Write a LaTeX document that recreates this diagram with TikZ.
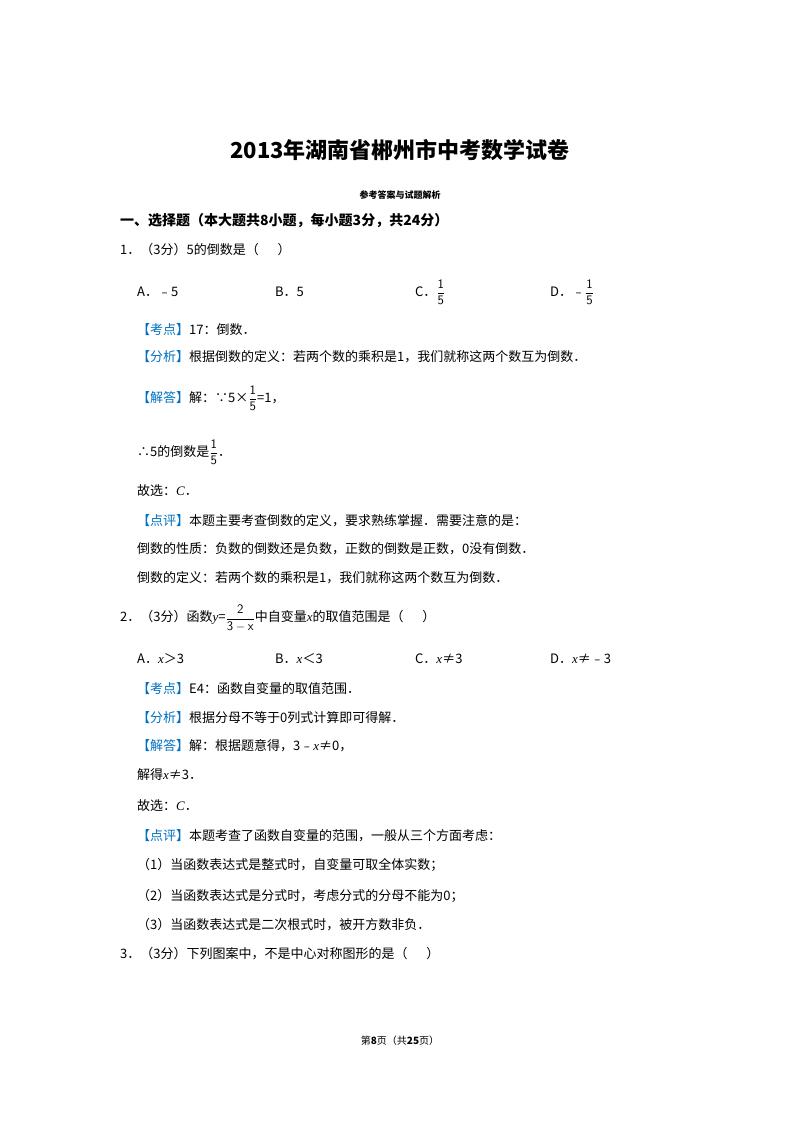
\documentclass[tikz,border=0pt]{standalone}
\usepackage{fontspec}
\setmainfont{Liberation Serif}
\newfontfamily\cjk{Noto Sans CJK SC}
\newfontfamily\lat{Liberation Serif}
\newcommand{\iv}[1]{{\lat\itshape #1}}
\newcommand{\fr}[2]{$\displaystyle\frac{\mathsf{#1}}{\mathsf{#2}}$}
\definecolor{tagblue}{RGB}{0,112,192}
\begin{document}
\begin{tikzpicture}[x=1pt,y=-1pt,
  t/.style={anchor=west,inner sep=0pt,font=\fontsize{13}{15}\selectfont\cjk}]
\useasboundingbox (0,0) rectangle (800,1132);
\node[font=\fontsize{22}{26}\selectfont\cjk\bfseries] (title) at (400,150) {2013年湖南省郴州市中考数学试卷};
\node[font=\fontsize{9}{11}\selectfont\cjk\bfseries] (sub) at (400,195) {参考答案与试题解析};
\node[t,font=\fontsize{14}{16}\selectfont\cjk\bfseries] (sec) at (120,221) {一、选择题（本大题共8小题，每小题3分，共24分）};
\node[t] (q1) at (120,250) {1．（3分）5的倒数是（\quad\ \ ）};
\node[t] (a1) at (137,292) {A．﹣5};
\node[t] (b1) at (275,292) {B．5};
\node[t] (c1) at (415,292) {C．\fr{1}{5}};
\node[t] (d1) at (550,292) {D．﹣\fr{1}{5}};
\node[t] (k1) at (137,330) {\textcolor{tagblue}{【考点】}17：倒数．};
\node[t] (f1) at (137,357) {\textcolor{tagblue}{【分析】}根据倒数的定义：若两个数的乘积是1，我们就称这两个数互为倒数．};
\node[t] (j1) at (137,398) {\textcolor{tagblue}{【解答】}解：∵5×\fr{1}{5}=1，};
\node[t] (s1) at (137,452) {∴5的倒数是\fr{1}{5}．};
\node[t] (g1) at (137,491) {故选：\iv{C}．};
\node[t] (p1) at (137,521) {\textcolor{tagblue}{【点评】}本题主要考查倒数的定义，要求熟练掌握．需要注意的是：};
\node[t] (p1b) at (137,549) {倒数的性质：负数的倒数还是负数，正数的倒数是正数，0没有倒数．};
\node[t] (p1c) at (137,578) {倒数的定义：若两个数的乘积是1，我们就称这两个数互为倒数．};
\node[t] (q2) at (120,618) {2．（3分）函数\iv{y}=\fr{2}{3-x}中自变量\iv{x}的取值范围是（\quad\ \ ）};
\node[t] (a2) at (137,659) {A．\iv{x}＞3};
\node[t] (b2) at (275,659) {B．\iv{x}＜3};
\node[t] (c2) at (415,659) {C．\iv{x}≠3};
\node[t] (d2) at (550,659) {D．\iv{x}≠﹣3};
\node[t] (k2) at (137,689) {\textcolor{tagblue}{【考点】}E4：函数自变量的取值范围．};
\node[t] (f2) at (137,718) {\textcolor{tagblue}{【分析】}根据分母不等于0列式计算即可得解．};
\node[t] (j2) at (137,746) {\textcolor{tagblue}{【解答】}解：根据题意得，3﹣\iv{x}≠0，};
\node[t] (s2) at (137,775) {解得\iv{x}≠3．};
\node[t] (g2) at (137,806) {故选：\iv{C}．};
\node[t] (p2) at (137,836) {\textcolor{tagblue}{【点评】}本题考查了函数自变量的范围，一般从三个方面考虑：};
\node[t] (p2b) at (137,865) {（1）当函数表达式是整式时，自变量可取全体实数；};
\node[t] (p2c) at (137,896) {（2）当函数表达式是分式时，考虑分式的分母不能为0；};
\node[t] (p2d) at (137,925) {（3）当函数表达式是二次根式时，被开方数非负．};
\node[t] (q3) at (120,954) {3．（3分）下列图案中，不是中心对称图形的是（\quad\ \ ）};
\node[font=\fontsize{10}{12}\selectfont\cjk] (foot) at (400,1041) {第\textbf{8}页（共\textbf{25}页）};
\end{tikzpicture}
\end{document}
